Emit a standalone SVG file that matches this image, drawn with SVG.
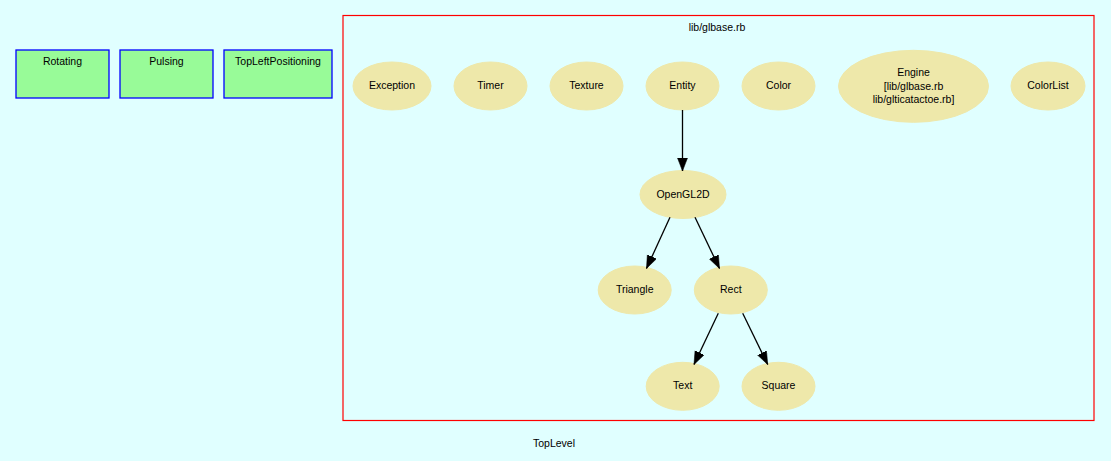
<svg xmlns="http://www.w3.org/2000/svg" width="1111" height="461" viewBox="0 0 1111 461">
<style>
text{font-family:"Liberation Sans",Arial,sans-serif;font-size:10.5px;fill:#000;text-anchor:middle}
.n ellipse{fill:#eee8aa;stroke:#eee8aa}
.b rect{fill:#98fb98;stroke:#0000ff;stroke-width:1.3}
.e path{fill:none;stroke:#000;stroke-width:1.3;marker-end:url(#ah)}
</style>
<defs>
<marker id="ah" markerUnits="userSpaceOnUse" markerWidth="14" markerHeight="11" refX="13" refY="5" orient="auto">
<path d="M0,0 L13,5 L0,10 z" fill="#000" stroke="#000" stroke-width="0.5"/>
</marker>
</defs>
<rect x="0" y="0" width="1111" height="461" fill="#e0ffff"/>
<text x="554" y="447">TopLevel</text>
<g id="Rotating" class="b"><rect x="16" y="50" width="93" height="48"/><text x="62.5" y="65">Rotating</text></g>
<g id="Pulsing" class="b"><rect x="120" y="50" width="93" height="48"/><text x="166.5" y="65">Pulsing</text></g>
<g id="TopLeftPositioning" class="b"><rect x="224" y="50" width="108" height="48"/><text x="278" y="65">TopLeftPositioning</text></g>
<g id="cluster_glbase">
<rect x="343" y="15.5" width="751" height="405" fill="none" stroke="#ff0000" stroke-width="1.2"/>
<text x="717" y="30.5">lib/glbase.rb</text>
</g>
<g id="Exception" class="n"><ellipse cx="392" cy="86" rx="39" ry="24"/><text x="392" y="89">Exception</text></g>
<g id="Timer" class="n"><ellipse cx="490.5" cy="86" rx="36.5" ry="24"/><text x="490.5" y="89">Timer</text></g>
<g id="Texture" class="n"><ellipse cx="586.5" cy="86" rx="36.5" ry="24"/><text x="586.5" y="89">Texture</text></g>
<g id="Entity" class="n"><ellipse cx="682.5" cy="86" rx="36.5" ry="24"/><text x="682.5" y="89">Entity</text></g>
<g id="Color" class="n"><ellipse cx="778.5" cy="86" rx="36.5" ry="24"/><text x="778.5" y="89">Color</text></g>
<g id="Engine" class="n"><ellipse cx="913.5" cy="86.3" rx="75" ry="36"/><text x="913.5" y="76">Engine</text><text x="913.5" y="89.5">[lib/glbase.rb</text><text x="913.5" y="103">lib/glticatactoe.rb]</text></g>
<g id="ColorList" class="n"><ellipse cx="1048" cy="86" rx="37" ry="24"/><text x="1048" y="89">ColorList</text></g>
<g id="OpenGL2D" class="n"><ellipse cx="683" cy="194.5" rx="43" ry="24"/><text x="683" y="197.5">OpenGL2D</text></g>
<g id="Triangle" class="n"><ellipse cx="634.7" cy="290" rx="36.5" ry="24"/><text x="634.7" y="293">Triangle</text></g>
<g id="Rect" class="n"><ellipse cx="730.8" cy="290" rx="36.5" ry="24"/><text x="730.8" y="293">Rect</text></g>
<g id="Text" class="n"><ellipse cx="682.7" cy="386.3" rx="36.5" ry="24"/><text x="682.7" y="389.3">Text</text></g>
<g id="Square" class="n"><ellipse cx="778.5" cy="386.3" rx="36.5" ry="24"/><text x="778.5" y="389.3">Square</text></g>
<g id="edges" class="e">
<path d="M682.5,110 L682.5,171"/>
<path d="M670,217.3 L646.5,268.5"/>
<path d="M695,217.3 L719.5,268.5"/>
<path d="M718.3,313.3 L694,364.5"/>
<path d="M742.7,313.3 L767.7,364.5"/>
</g>
</svg>
